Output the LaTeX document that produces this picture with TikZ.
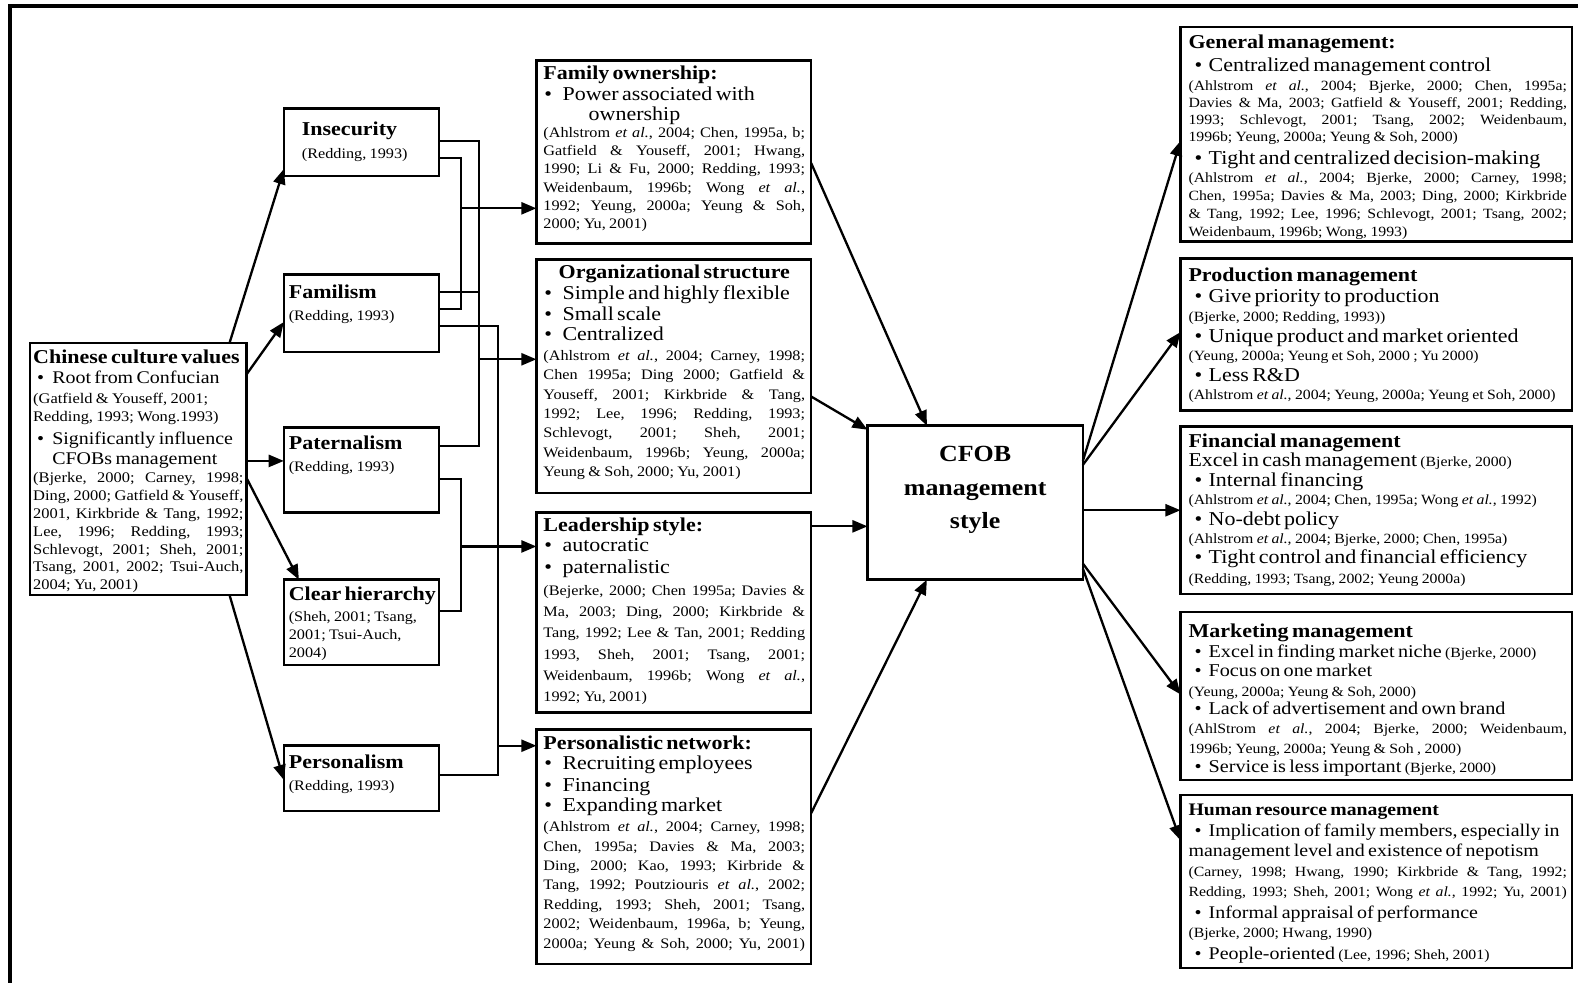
\documentclass[tikz,border=0pt]{standalone}
\usepackage{fontspec}
\setmainfont{Liberation Serif}[FakeStretch=1.12]
\usetikzlibrary{arrows.meta}
\frenchspacing

% text helpers: one paragraph per printed line
\newlength\bulw \newlength\bulo
\setlength\bulw{19pt}\setlength\bulo{4pt}
\def\hdsz{19.5}\def\busz{19.5}\def\ctsz{14.4}
\newcommand\hdl[2][22]{{\fontsize{\hdsz}{#1}\selectfont\bfseries #2\par}}
\newcommand\hdc[2][22]{{\fontsize{\hdsz}{#1}\selectfont\bfseries\makebox[\linewidth][c]{#2}\par}}
\newcommand\bul[2][20]{{\fontsize{\busz}{#1}\selectfont\makebox[\bulw][l]{\hspace{\bulo}\textbullet}#2\par}}
\newcommand\bcont[2][20]{{\fontsize{\busz}{#1}\selectfont\hspace*{\bulw}#2\par}}
\newcommand\pln[2][20]{{\fontsize{\busz}{#1}\selectfont #2\par}}
% justified citation line: word spaces share the free width
\newcommand\cjl[2][18]{{\fontsize{\ctsz}{#1}\selectfont
  \hbox to\linewidth{\spaceskip=.25em plus 1fil minus .1em\xspaceskip=\spaceskip #2}\par}}
\newcommand\crl[2][18]{{\fontsize{\ctsz}{#1}\selectfont #2\par}}
\newcommand\sm[1]{{\fontsize{\ctsz}{\ctsz}\selectfont #1}}
\newcommand\ea{\textit{et al.}}
\newcommand\bx[5]{\node[box, minimum width={#4pt-#2pt}, minimum height={#5pt-#3pt}] (#1) at ({(#2+#4)/2},{(#3+#5)/2}) {};}

\begin{document}
\begin{tikzpicture}[x=1pt,y=-1pt,
  box/.style={draw, line width=2.5pt, inner sep=0pt, outer sep=0pt},
  txt/.style={anchor=north west, inner sep=0pt, outer sep=0pt},
  ln/.style={line width=2.3pt},
  arr/.style={line width=2.3pt, -{Triangle[length=15pt,width=12pt]}},
  frame/.style={line width=3.2pt}]
\useasboundingbox (0,0) rectangle (1568,976);

% outer frame
\draw[frame] (10,985) -- (10,6) -- (1575,6);

% boxes
\bx{cul}{30}{341}{245}{591}
\bx{ins}{282}{108}{436}{175}
\bx{fml}{282}{273}{436}{350}
\bx{pat}{282}{425}{436}{509}
\bx{hier}{282}{576}{436}{661}
\bx{pers}{282}{741}{436}{806}
\bx{own}{533}{60}{806}{242}
\bx{org}{533}{258}{806}{490}
\bx{lead}{533}{509}{806}{708}
\bx{net}{533}{725}{806}{958}
\bx{cfob}{862}{423}{1076}{576}
\bx{gen}{1173}{27}{1562}{240}
\bx{prod}{1173}{257}{1562}{408}
\bx{fin}{1173}{424}{1562}{590}
\bx{mkt}{1173}{608}{1562}{775}
\bx{hrm}{1173}{790}{1562}{962}

% culture values
\node[txt, text width=209pt] (cul-t) at (33,347.5) {\def\busz{17.7}\def\ctsz{14.6}%
\hdl{Chinese culture values}
\bul[20.5]{Root from Confucian}
\crl[19]{(Gatfield \& Youseff, 2001;}
\crl{Redding, 1993; Wong.1993)}
\bul[23]{Significantly influence}
\bcont{CFOBs management}
\cjl[18]{(Bjerke, 2000; Carney, 1998;}
\cjl{Ding, 2000; Gatfield \& Youseff,}
\cjl[17.7]{2001, Kirkbride \& Tang, 1992;}
\cjl[17.7]{Lee, 1996; Redding, 1993;}
\cjl[17.7]{Schlevogt, 2001; Sheh, 2001;}
\cjl[17.7]{Tsang, 2001, 2002; Tsui-Auch,}
\crl[17.7]{2004; Yu, 2001)}};

% cultural traits
\node[txt, text width=130pt] (ins-t) at (300,121.5) {\hdl{Insecurity}\crl[22.3]{(Redding, 1993)}};
\node[txt, text width=147pt] (fml-t) at (287,283.5) {\hdl{Familism}\crl[21.3]{(Redding, 1993)}};
\node[txt, text width=147pt] (pat-t) at (287,433.5) {\hdl{Paternalism}\crl[21.3]{(Redding, 1993)}};
\node[txt, text width=147pt] (hier-t) at (287,583.5) {\hdl{Clear hierarchy}\crl[20.3]{(Sheh, 2001; Tsang,}\crl{2001; Tsui-Auch,}\crl{2004)}};
\node[txt, text width=147pt] (pers-t) at (287,750.5) {\hdl{Personalism}\crl[21.3]{(Redding, 1993)}};

% organisational features
\node[txt, text width=260pt] (own-t) at (540,65.5) {\setlength\bulo{1pt}%
\hdl{Family ownership:}
\bul[20.5]{Power associated with}
\bcont[20]{\hspace*{26pt}ownership}
\cjl[17.3]{(Ahlstrom \ea, 2004; Chen, 1995a, b;}
\cjl{Gatfield \& Youseff, 2001; Hwang,}
\cjl{1990; Li \& Fu, 2000; Redding, 1993;}
\cjl{Weidenbaum, 1996b; Wong \ea,}
\cjl{1992; Yeung, 2000a; Yeung \& Soh,}
\crl{2000; Yu, 2001)}};

\node[txt, text width=260pt] (org-t) at (540,263.5) {\setlength\bulo{1pt}%
\hdc{Organizational structure}
\bul[21]{Simple and highly flexible}
\bul{Small scale}
\bul{Centralized}
\cjl[20.3]{(Ahlstrom \ea, 2004; Carney, 1998;}
\cjl[19.2]{Chen 1995a; Ding 2000; Gatfield \&}
\cjl[19.2]{Youseff, 2001; Kirkbride \& Tang,}
\cjl[19.2]{1992; Lee, 1996; Redding, 1993;}
\cjl[19.2]{Schlevogt, 2001; Sheh, 2001;}
\cjl[19.2]{Weidenbaum, 1996b; Yeung, 2000a;}
\crl[19.2]{Yeung \& Soh, 2000; Yu, 2001)}};

\node[txt, text width=260pt] (lead-t) at (540,514.5) {\setlength\bulo{1pt}%
\hdl{Leadership style:}
\bul{autocratic}
\bul[22]{paternalistic}
\cjl[21.3]{(Bejerke, 2000; Chen 1995a; Davies \&}
\cjl[21.2]{Ma, 2003; Ding, 2000; Kirkbride \&}
\cjl[21.2]{Tang, 1992; Lee \& Tan, 2001; Redding}
\cjl[21.2]{1993, Sheh, 2001; Tsang, 2001;}
\cjl[21.2]{Weidenbaum, 1996b; Wong \ea,}
\crl[21.2]{1992; Yu, 2001)}};

\node[txt, text width=260pt] (net-t) at (540,731.5) {\setlength\bulo{1pt}%
\hdl{Personalistic network:}
\bul{Recruiting employees}
\bul[21]{Financing}
\bul{Expanding market}
\cjl[20.3]{(Ahlstrom \ea, 2004; Carney, 1998;}
\cjl[19.3]{Chen, 1995a; Davies \& Ma, 2003;}
\cjl[19.3]{Ding, 2000; Kao, 1993; Kirbride \&}
\cjl[19.3]{Tang, 1992; Poutziouris \ea, 2002;}
\cjl[19.3]{Redding, 1993; Sheh, 2001; Tsang,}
\cjl[19.3]{2002; Weidenbaum, 1996a, b; Yeung,}
\cjl[19.3]{2000a; Yeung \& Soh, 2000; Yu, 2001)}};

% central style
\node[anchor=north, align=center, inner sep=0pt, font={\fontsize{23}{33.5}\selectfont\bfseries}] (cfob-t) at (969,443) {CFOB\\management\\style};

% management functions
\node[txt, text width=376pt] (gen-t) at (1181,34.5) {\def\ctsz{14}\setlength\bulo{6pt}\setlength\bulw{20pt}%
\hdl{General management:}
\bul[23]{Centralized management control}
\cjl[19.3]{(Ahlstrom \ea, 2004; Bjerke, 2000; Chen, 1995a;}
\cjl[16.7]{Davies \& Ma, 2003; Gatfield \& Youseff, 2001; Redding,}
\cjl[16.7]{1993; Schlevogt, 2001; Tsang, 2002; Weidenbaum,}
\crl[16.7]{1996b; Yeung, 2000a; Yeung \& Soh, 2000)}
\bul[22.7]{Tight and centralized decision-making}
\cjl[18.3]{(Ahlstrom \ea, 2004; Bjerke, 2000; Carney, 1998;}
\cjl[17.7]{Chen, 1995a; Davies \& Ma, 2003; Ding, 2000; Kirkbride}
\cjl[17.7]{\& Tang, 1992; Lee, 1996; Schlevogt, 2001; Tsang, 2002;}
\crl[17.7]{Weidenbaum, 1996b; Wong, 1993)}};

\node[txt, text width=376pt] (prod-t) at (1181,266.5) {\def\ctsz{14}\setlength\bulo{6pt}\setlength\bulw{20pt}%
\hdl{Production management}
\bul[21]{Give priority to production}
\crl[18.3]{(Bjerke, 2000; Redding, 1993))}
\bul[20.7]{Unique product and market oriented}
\crl[18.3]{(Yeung, 2000a; Yeung et Soh, 2000 ; Yu 2000)}
\bul[20.7]{Less R\&D}
\crl[18.3]{(Ahlstrom \ea, 2004; Yeung, 2000a; Yeung et Soh, 2000)}};

\node[txt, text width=376pt] (fin-t) at (1181,431.5) {\def\ctsz{14}\setlength\bulo{6pt}\setlength\bulw{20pt}%
\hdl{Financial management}
\pln[19]{Excel in cash management \sm{(Bjerke, 2000)}}
\bul[19]{Internal financing}
\crl[18.3]{(Ahlstrom \ea, 2004; Chen, 1995a; Wong \ea, 1992)}
\bul[20.7]{No-debt policy}
\crl[18.3]{(Ahlstrom \ea, 2004; Bjerke, 2000; Chen, 1995a)}
\bul[19.7]{Tight control and financial efficiency}
\crl[19.3]{(Redding, 1993; Tsang, 2002; Yeung 2000a)}};

\node[txt, text width=376pt] (mkt-t) at (1181,619.5) {\def\ctsz{14}\def\busz{17.9}\setlength\bulo{6pt}\setlength\bulw{20pt}%
\hdl{Marketing management}
\bul[20]{Excel in finding market niche \sm{(Bjerke, 2000)}}
\bul[19]{Focus on one market}
\crl[19.6]{(Yeung, 2000a; Yeung \& Soh, 2000)}
\bul[18.4]{Lack of advertisement and own brand}
\cjl[18.6]{(AhlStrom \ea, 2004; Bjerke, 2000; Weidenbaum,}
\crl[20]{1996b; Yeung, 2000a; Yeung \& Soh , 2000)}
\bul[19.4]{Service is less important \sm{(Bjerke, 2000)}}};

\node[txt, text width=376pt] (hrm-t) at (1181,798.5) {\def\ctsz{14}\def\hdsz{17.5}\def\busz{17.7}\setlength\bulo{6pt}\setlength\bulw{20pt}%
\hdl{Human resource management}
\bul[21]{Implication of family members, especially in}
\pln[20]{management level and existence of nepotism}
\cjl[19.6]{(Carney, 1998; Hwang, 1990; Kirkbride \& Tang, 1992;}
\cjl[20]{Redding, 1993; Sheh, 2001; Wong \ea, 1992; Yu, 2001)}
\bul[22.4]{Informal appraisal of performance}
\crl[18.6]{(Bjerke, 2000; Hwang, 1990)}
\bul[21.4]{People-oriented \sm{(Lee, 1996; Sheh, 2001)}}};

% culture values -> traits
\draw[arr] ([xshift=-17pt]cul.north east) -- ([yshift=-26.5pt]ins.west);
\draw[arr] ([yshift=94pt]cul.east) -- ([yshift=-8.5pt]fml.west);
\draw[arr] ([yshift=8pt]cul.east) -- ([yshift=9pt]pat.west);
\draw[arr] ([yshift=-9pt]cul.east) -- ([xshift=15pt]hier.north west);
\draw[arr] ([xshift=-17pt]cul.south east) -- ([yshift=-1.5pt]pers.west);

% bus junctions
\coordinate (jA) at (458,207);
\coordinate (jB) at (476,357);
\coordinate (jD) at (458,543);
\coordinate (jC) at (495,741);

% traits -> buses
\draw[ln] ([yshift=1.5pt]ins.east) -- (476,140) -- (476,443) -- ([yshift=24pt]pat.east);
\draw[ln] ([yshift=-15.5pt]ins.east) -- (458,157) -- (458,307) -- ([yshift=4.5pt]fml.east);
\draw[ln] ([yshift=21.5pt]fml.east) -- (476,290);
\draw[ln] ([yshift=-12.5pt]fml.east) -- (495,324) -- (495,770) -- ([yshift=3.5pt]pers.east);
\draw[ln] ([yshift=-9pt]pat.east) -- (458,476) -- (458,607) -- ([yshift=11.5pt]hier.east);

% buses -> features
\draw[arr] (jA) -- ([yshift=-56pt]own.west);
\draw[arr] (jB) -- ([yshift=17pt]org.west);
\draw[arr] (jD) -- ([yshift=65.5pt]lead.west);
\draw[arr] (jC) -- ([yshift=100.5pt]net.west);

% features -> management style
\draw[arr] ([yshift=-11pt]own.east) -- ([xshift=59pt]cfob.north west);
\draw[arr] ([yshift=-20pt]org.east) -- ([yshift=-4pt]cfob.north west);
\draw[arr] ([yshift=85.5pt]lead.east) -- ([yshift=-23.5pt]cfob.west);
\draw[arr] ([yshift=33.5pt]net.east) -- ([xshift=59pt]cfob.south west);

% management style -> functions
\draw[arr] ([yshift=41.5pt]cfob.east) -- ([yshift=-6.5pt]gen.west);
\draw[arr] ([yshift=37.5pt]cfob.east) -- ([yshift=2.5pt]prod.west);
\draw[arr] ([yshift=-7.5pt]cfob.east) -- (fin.west);
\draw[arr] ([yshift=-60.5pt]cfob.east) -- ([yshift=1.5pt]mkt.west);
\draw[arr] ([yshift=-65.5pt]cfob.east) -- ([yshift=41pt]hrm.west);
\end{tikzpicture}
\end{document}
